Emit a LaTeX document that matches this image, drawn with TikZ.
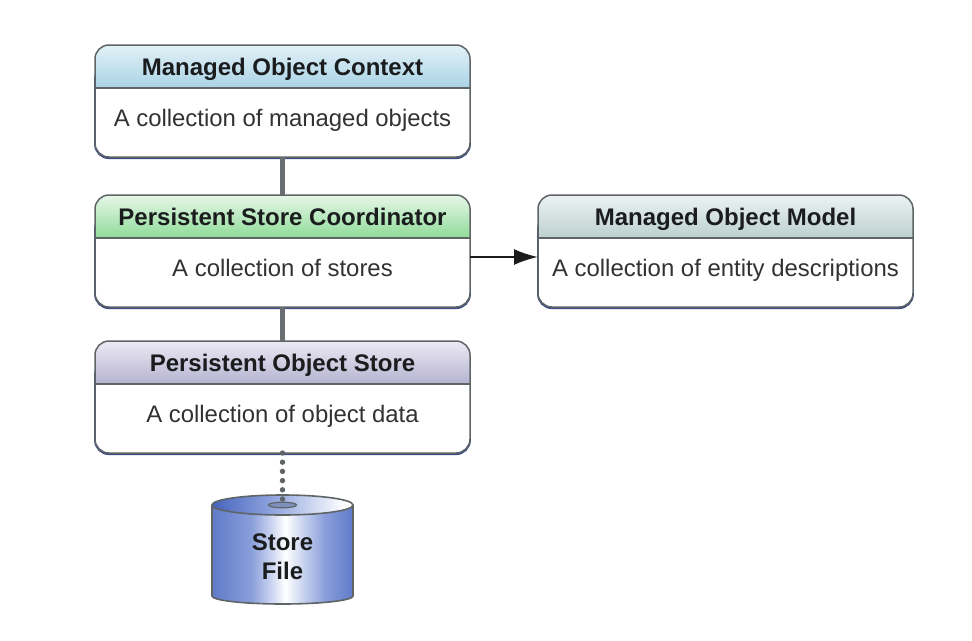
\documentclass[tikz,border=0pt]{standalone}
\usepackage{fontspec}
\setmainfont{Liberation Sans}
\usetikzlibrary{arrows.meta,calc}
\definecolor{edgegray}{HTML}{5F6466}
\definecolor{inkc}{HTML}{1A1C1E}
\definecolor{bodyc}{HTML}{303234}
\definecolor{linkc}{HTML}{6A6E70}
\definecolor{shadowblue}{HTML}{3D4C86}
\definecolor{ctxtop}{HTML}{E3F1F7}
\definecolor{ctxbot}{HTML}{A9D3E6}
\definecolor{cootop}{HTML}{E6F7E8}
\definecolor{coobot}{HTML}{8FDB98}
\definecolor{postop}{HTML}{ECEAF3}
\definecolor{posbot}{HTML}{B5B2D0}
\definecolor{momtop}{HTML}{ECF2F2}
\definecolor{mombot}{HTML}{BCD0CF}
\definecolor{cylblue}{HTML}{5F7BC9}
\definecolor{cylmid}{HTML}{8A9FDB}
\definecolor{cylpale}{HTML}{CBD5F0}
\definecolor{cyldark}{HTML}{4664BE}
\pgfdeclarehorizontalshading{cylbody}{100bp}{color(0bp)=(cylblue); color(25bp)=(cylblue); color(39bp)=(cylmid); color(46bp)=(cylpale); color(51bp)=(white); color(57bp)=(cylpale); color(65bp)=(cylmid); color(75bp)=(cylblue); color(100bp)=(cylblue)}
\pgfdeclarehorizontalshading{cyltop}{100bp}{color(0bp)=(cyldark); color(25bp)=(cyldark); color(45bp)=(cylmid); color(60bp)=(cylpale); color(72bp)=(white); color(100bp)=(white)}
\tikzset{
  x=1pt,y=-1pt,
  boxn/.style={rounded corners=14pt,minimum width=375pt,minimum height=112pt,inner sep=0pt,outer sep=0pt,fill=white},
  boxedge/.style={draw=edgegray,line width=1.5pt,rounded corners=14pt},
  title/.style={font=\fontsize{24}{26}\selectfont\bfseries,text=inkc,inner sep=0pt,anchor=base},
  body/.style={font=\fontsize{23.9}{26}\selectfont,text=bodyc,inner sep=0pt,anchor=base},
  linkline/.style={draw=linkc,line width=5pt},
  cyledge/.style={draw=edgegray,line width=1.6pt},
}
% #1 name, #2 left, #3 top, #4 bottom colour of header, #5 top colour, #6 title, #7 body
\newcommand{\storybox}[7]{%
  \draw[shadowblue,line width=1.8pt,rounded corners=14pt] ($(#2,#3)+(0,20)$) rectangle ($(#2,#3)+(375,113.2)$);
  \node[boxn,anchor=north west] (#1) at (#2,#3) {};
  \begin{scope}
    \clip[rounded corners=14pt] (#2,#3) rectangle ++(375,112);
    \shade[top color=#5,bottom color=#4] (#2,#3) rectangle ++(375,43);
  \end{scope}
  \draw[boxedge] (#2,#3) rectangle ++(375,112);
  \draw[edgegray,line width=1.6pt] ($(#2,#3)+(0,43)$) -- ++(375,0);
  \node[title] (#1t) at ($(#2,#3)+(187.5,30)$) {#6};
  \node[body] (#1b) at ($(#2,#3)+(187.5,81.4)$) {#7};
}
\begin{document}
\begin{tikzpicture}
\useasboundingbox (0,0) rectangle (972,640);
\fill[white] (0,0) rectangle (972,640);
\storybox{ctx}{95}{45}{ctxbot}{ctxtop}{Managed Object Context}{A collection of managed objects}
\storybox{coord}{95}{195}{coobot}{cootop}{Persistent Store Coordinator}{A collection of stores}
\storybox{pos}{95}{341}{posbot}{postop}{Persistent Object Store}{A collection of object data}
\storybox{mom}{538}{195}{mombot}{momtop}{Managed Object Model}{A collection of entity descriptions}
\draw[linkline] (ctx.south) -- (coord.north);
\draw[linkline] (coord.south) -- (pos.north);
\draw[draw=inkc,line width=2pt,-{Latex[length=24pt,width=16pt]}] (coord.east |- 0,257) -- (mom.west |- 0,257);
% cylinder
\shade[shading=cylbody] (212,505) -- (212,596) arc[start angle=180,end angle=0,x radius=70.5,y radius=8] -- (353,505) -- cycle;
\shade[shading=cyltop] (282.5,505) ellipse[x radius=70.5,y radius=10];
\draw[cyledge] (212,505) -- (212,596) arc[start angle=180,end angle=0,x radius=70.5,y radius=8] -- (353,505);
\draw[cyledge] (282.5,505) ellipse[x radius=70.5,y radius=10];
\draw[edgegray,fill=edgegray!25!cylmid,line width=1.2pt] (282.5,505) ellipse[x radius=14,y radius=2.8];
\node[inner sep=0pt,align=center,font=\fontsize{24}{29}\selectfont\bfseries,text=inkc] (store) at (282.5,557) {Store\\File};
\coordinate (hub) at (282.5,505);
\draw[edgegray,line width=5.4pt,line cap=round,dash pattern=on 0pt off 9.2pt] (pos.south) -- (hub);
\end{tikzpicture}
\end{document}
